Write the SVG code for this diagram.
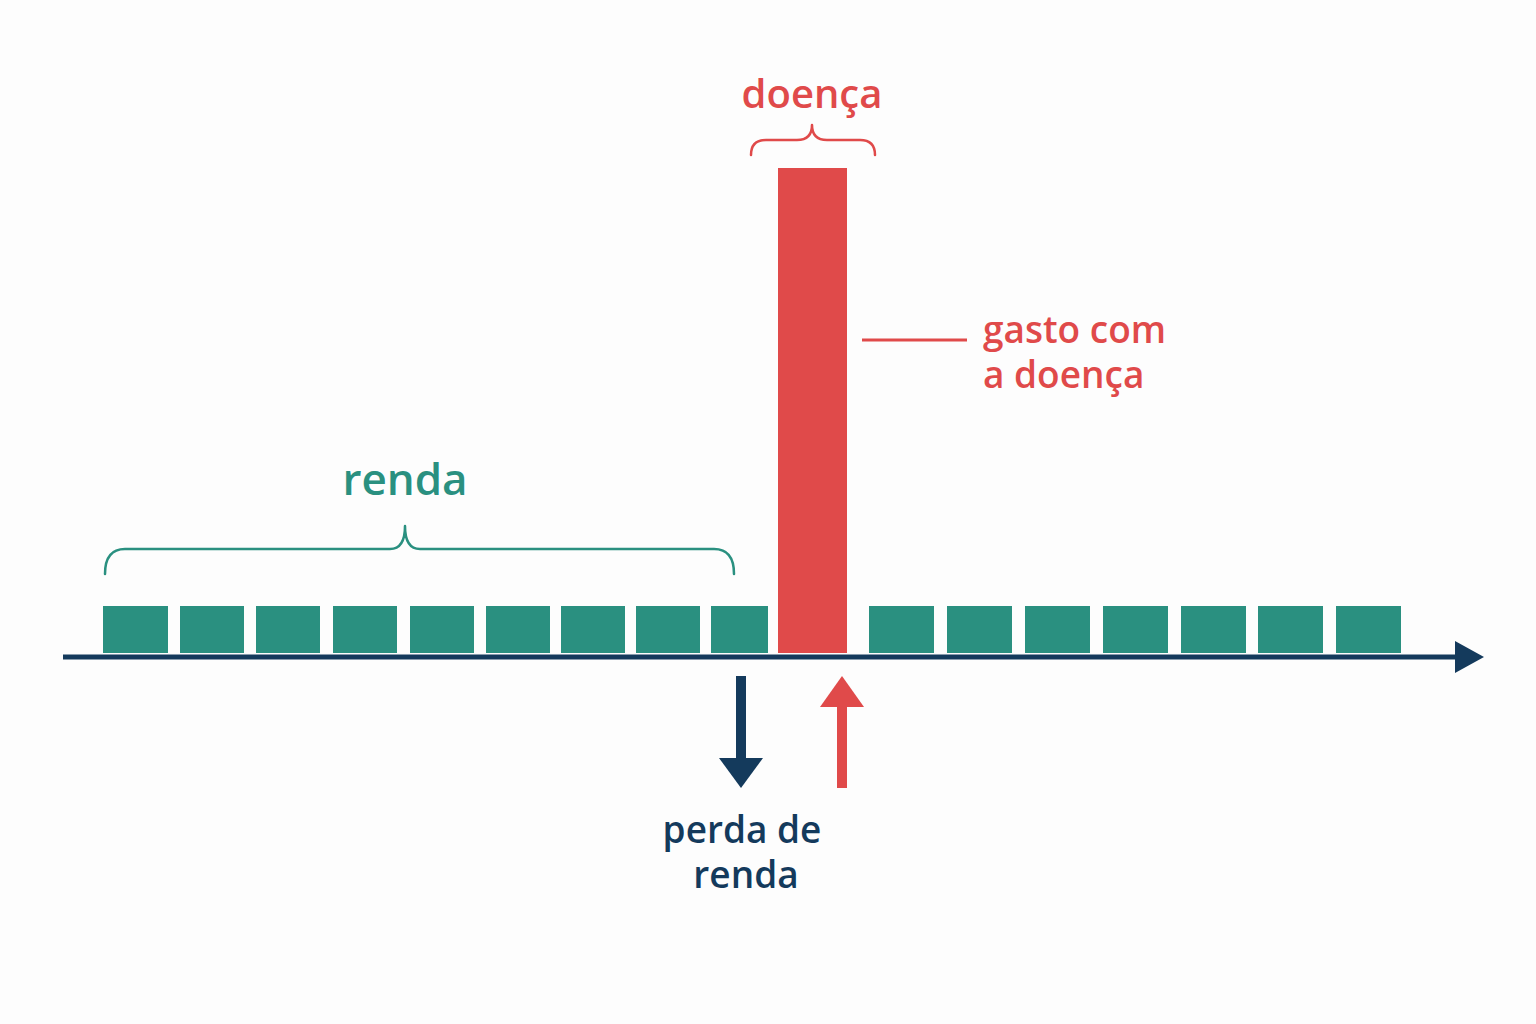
<svg xmlns="http://www.w3.org/2000/svg" width="1536" height="1024" viewBox="0 0 1536 1024">
<style>
.sq{fill:#2a9080}
.t{font-family:"Open Sans","Liberation Sans",sans-serif;font-weight:600}
.br{fill:none;stroke-width:2.5;stroke-linecap:round;stroke-linejoin:round}
</style>
<rect width="1536" height="1024" fill="#fdfdfd"/>
<g id="squares">
<rect class="sq" x="103" y="606" width="65" height="47"/><rect class="sq" x="180" y="606" width="64" height="47"/><rect class="sq" x="256" y="606" width="64" height="47"/><rect class="sq" x="333" y="606" width="64" height="47"/><rect class="sq" x="410" y="606" width="64" height="47"/><rect class="sq" x="486" y="606" width="64" height="47"/><rect class="sq" x="561" y="606" width="64" height="47"/><rect class="sq" x="636" y="606" width="64" height="47"/><rect class="sq" x="711" y="606" width="57" height="47"/>
<rect class="sq" x="869" y="606" width="65" height="47"/><rect class="sq" x="947" y="606" width="65" height="47"/><rect class="sq" x="1025" y="606" width="65" height="47"/><rect class="sq" x="1103" y="606" width="65" height="47"/><rect class="sq" x="1181" y="606" width="65" height="47"/><rect class="sq" x="1258" y="606" width="65" height="47"/><rect class="sq" x="1336" y="606" width="65" height="47"/>
</g>
<g id="bar"><rect x="778" y="168" width="69" height="485" fill="#e04a4a"/></g>
<g id="axis">
<line x1="63" y1="657" x2="1462" y2="657" stroke="#143a5c" stroke-width="5"/>
<polygon points="1455,641 1484,657 1455,673" fill="#143a5c"/>
</g>
<g id="connectors">
<path class="br" stroke="#e04a4a" d="M751,155 Q751,140 766,140 L797,140 Q812,140 812,125 Q812,140 827,140 L860,140 Q875,140 875,155"/>
<path class="br" stroke="#2a9080" d="M105,574 Q105,549 125,549 L390,549 Q405,549 405,526 Q405,549 420,549 L714,549 Q734,549 734,574"/>
<line x1="862" y1="340" x2="967" y2="340" stroke="#e04a4a" stroke-width="3"/>
<line x1="741" y1="676" x2="741" y2="762" stroke="#143a5c" stroke-width="10"/>
<polygon points="719,758 763,758 741,788" fill="#143a5c"/>
<line x1="842" y1="703" x2="842" y2="788" stroke="#e04a4a" stroke-width="10"/>
<polygon points="820,707 864,707 842,676" fill="#e04a4a"/>
</g>
<g id="labels" class="t">
<text x="812" y="108" text-anchor="middle" font-size="40" fill="#e04a4a">doença</text>
<text x="405" y="495" text-anchor="middle" font-size="44" fill="#2a9080">renda</text>
<text font-size="37" fill="#e04a4a"><tspan x="983" y="343">gasto com</tspan><tspan x="983" y="388">a doença</tspan></text>
<text text-anchor="middle" font-size="37" fill="#143a5c"><tspan x="742" y="843">perda de</tspan><tspan x="746" y="888">renda</tspan></text>
</g>
</svg>
